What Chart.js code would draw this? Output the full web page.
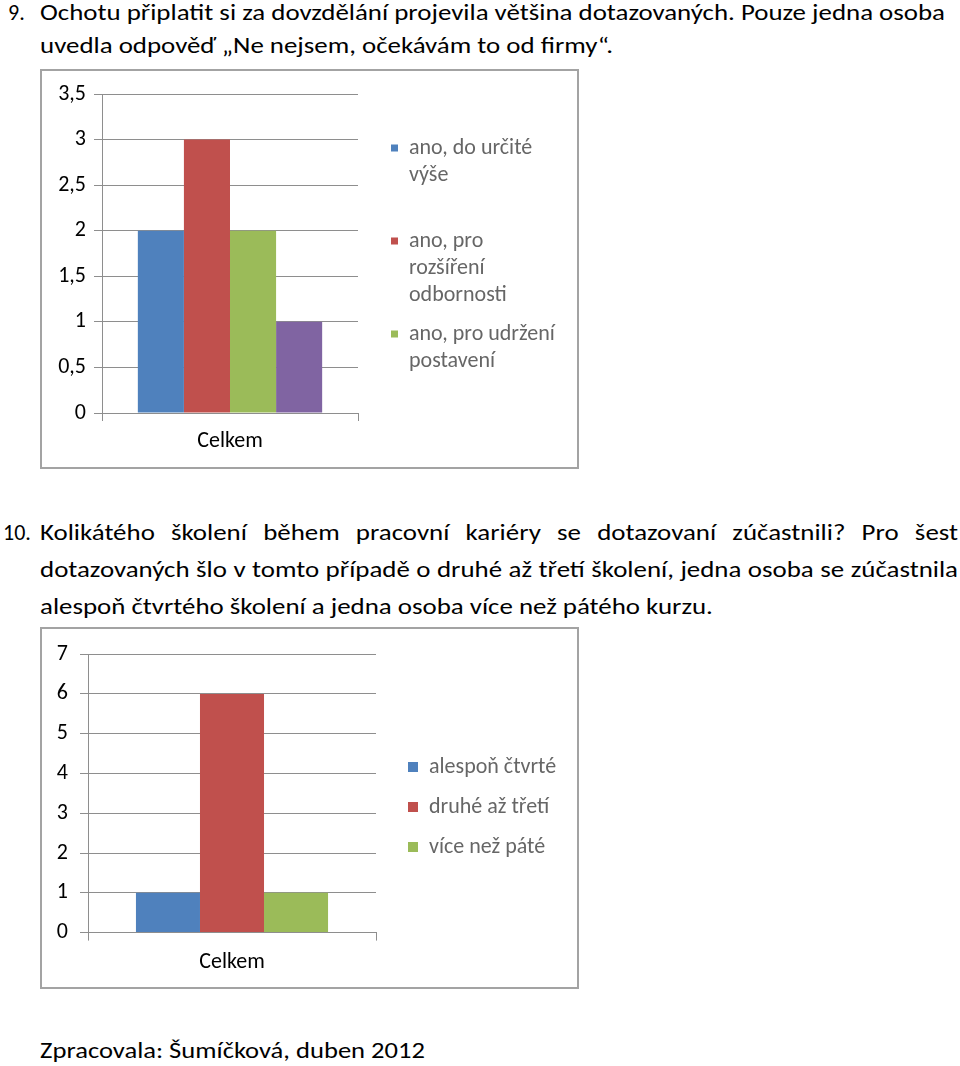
<!DOCTYPE html>
<html><head><meta charset="utf-8">
<script src="https://cdn.jsdelivr.net/npm/chart.js@4"></script>
<style>
html,body{margin:0;padding:0;background:#fff;}
body{width:960px;height:1066px;position:relative;overflow:hidden;font-family:Carlito,Lato,sans-serif;color:#000;}
.ln{position:absolute;font-size:22px;line-height:26px;white-space:nowrap;transform-origin:0 0;}
.box{position:absolute;box-sizing:border-box;border:2px solid #a3a3a3;background:#fff;}
.box canvas{display:block;}
</style></head><body>
<div class="ln" style="left:8px;top:0px">9.</div>
<div class="ln" data-mode="ref" data-w="905" style="left:40px;top:0px">Ochotu připlatit si za dovzdělání projevila většina dotazovaných. Pouze jedna osoba</div>
<div class="ln" data-mode="scale" style="left:40px;top:33px">uvedla odpověď „Ne nejsem, očekávám to od firmy“.</div>

<div class="box" style="left:40px;top:69px;width:539px;height:400px"><canvas id="c1" width="535" height="396"></canvas></div>

<div class="ln" style="left:3px;top:520px">10.</div>
<div class="ln" data-mode="just" data-w="918" style="left:40px;top:520px">Kolikátého školení během pracovní kariéry se dotazovaní zúčastnili? Pro šest</div>
<div class="ln" data-mode="just" data-w="918" style="left:40px;top:557px">dotazovaných šlo v tomto případě o druhé až třetí školení, jedna osoba se zúčastnila</div>
<div class="ln" data-mode="scale" style="left:40px;top:594px">alespoň čtvrtého školení a jedna osoba více než pátého kurzu.</div>

<div class="box" style="left:40px;top:627px;width:539px;height:362px"><canvas id="c2" width="535" height="358"></canvas></div>

<div class="ln" data-mode="fit" data-w="385" style="left:40px;top:1038px">Zpracovala: Šumíčková, duben 2012</div>

<script>
// ---- data ----
const categories = ['Celkem'];

const series1Labels = ['ano, do určité výše', 'ano, pro rozšíření odbornosti', 'ano, pro udržení postavení', 'Ne nejsem, očekávám to od firmy'];
const series1Values = [2, 3, 2, 1];
const legend1Lines = [['ano, do určité', 'výše', ''], ['ano, pro', 'rozšíření', 'odbornosti'], ['ano, pro udržení', 'postavení']];
const y1TickLabels = ['0', '0,5', '1', '1,5', '2', '2,5', '3', '3,5'];

const series2Labels = ['alespoň čtvrté', 'druhé až třetí', 'více než páté'];
const series2Values = [1, 6, 1];
const y2TickLabels = ['0', '1', '2', '3', '4', '5', '6', '7'];

// ---- styles ----
const palette = ['#4F81BD', '#C0504D', '#9BBB59', '#8064A2'];
const GRID = '#8e8e8e';
const FONT = 'Carlito, Lato, sans-serif';
const FS = 22;

// ---- text layout ----
(function () {
  const els = Array.from(document.querySelectorAll('.ln[data-mode]'));
  let s = 1;
  els.forEach(el => {
    if (el.dataset.mode === 'ref') {
      const w = el.getBoundingClientRect().width;
      s = (+el.dataset.w) / w;
    }
  });
  els.forEach(el => {
    const m = el.dataset.mode;
    const w = el.getBoundingClientRect().width;
    if (m === 'ref' || m === 'scale') {
      el.style.transform = 'scaleX(' + s + ')';
    } else if (m === 'fit') {
      el.style.transform = 'scaleX(' + ((+el.dataset.w) / w) + ')';
    } else if (m === 'just') {
      const T = (+el.dataset.w) / s;
      if (w <= T) {
        el.style.width = T + 'px';
        el.style.whiteSpace = 'normal';
        el.style.textAlign = 'justify';
        el.style.textAlignLast = 'justify';
        el.style.transform = 'scaleX(' + s + ')';
      } else {
        el.style.transform = 'scaleX(' + ((+el.dataset.w) / w) + ')';
      }
    }
  });
})();

// fixes the legend box width so the plot area / legend split is deterministic
const legendWidth = w => ({
  id: 'legendWidth',
  afterInit(chart) {
    const lg = chart.legend;
    if (!lg) return;
    const f = lg.fit;
    lg.fit = function () { f.call(this); this.width = w; };
  }
});

function makeLegend(lines, box, pad, titleH) {
  return {
    display: true,
    position: 'right',
    align: 'start',
    title: { display: true, text: '', padding: { top: 0, bottom: titleH - 12 }, font: { size: 12, lineHeight: 1 } },
    labels: {
      boxWidth: box, boxHeight: box, padding: pad, color: '#000',
      font: { family: FONT, size: FS, lineHeight: 27 / FS },
      generateLabels: chart => chart.data.datasets.map((ds, i) => ({
        text: lines[i], fillStyle: ds.backgroundColor, strokeStyle: ds.backgroundColor,
        lineWidth: 0, hidden: false, datasetIndex: i
      })).filter(it => it.text)
    }
  };
}

function makeScales(maxV, step, tickLabels, yWidth, tickPad, xPad, spacerW) {
  return {
    x: {
      grid: { display: true, drawOnChartArea: false, drawTicks: true, tickLength: 8, color: GRID, offset: true },
      border: { display: true, color: GRID },
      ticks: { color: '#000', font: { family: FONT, size: FS }, padding: xPad }
    },
    y: {
      min: 0, max: maxV,
      grid: { color: GRID, tickLength: 8 },
      border: { display: true, color: GRID },
      ticks: { stepSize: step, color: '#000', font: { family: FONT, size: FS }, padding: tickPad,
        callback: (v, i) => tickLabels[i] },
      afterFit: sc => { sc.width = yWidth; }
    },
    spacer: {
      type: 'linear', position: 'right', display: true,
      grid: { display: false }, ticks: { display: false }, border: { display: false },
      afterFit: sc => { sc.width = spacerW; }
    }
  };
}

new Chart(document.getElementById('c1'), {
  type: 'bar',
  data: {
    labels: categories,
    datasets: series1Labels.map((lab, i) => ({
      label: lab, data: [series1Values[i]], backgroundColor: palette[i],
      barPercentage: 1, categoryPercentage: 0.72
    }))
  },
  options: {
    responsive: false, animation: false, devicePixelRatio: 1,
    layout: { padding: { left: 15, top: 23, right: 0, bottom: 5.6 } },
    plugins: { legend: makeLegend(legend1Lines, 7, 12, 31), tooltip: { enabled: false } },
    scales: makeScales(3.5, 0.5, y1TickLabels, 45, 8, 7, 21)
  },
  plugins: [legendWidth(198)]
});

new Chart(document.getElementById('c2'), {
  type: 'bar',
  data: {
    labels: categories,
    datasets: series2Labels.map((lab, i) => ({
      label: lab, data: [series2Values[i]], backgroundColor: palette[i],
      barPercentage: 1, categoryPercentage: 0.667
    }))
  },
  options: {
    responsive: false, animation: false, devicePixelRatio: 1,
    layout: { padding: { left: 6, top: 18, right: 0, bottom: 2 } },
    plugins: { legend: makeLegend(series2Labels, 10, 18, 91), tooltip: { enabled: false } },
    scales: makeScales(7, 1, y2TickLabels, 40, 12, 9, 14)
  },
  plugins: [legendWidth(187)]
});
</script>
</body></html>
